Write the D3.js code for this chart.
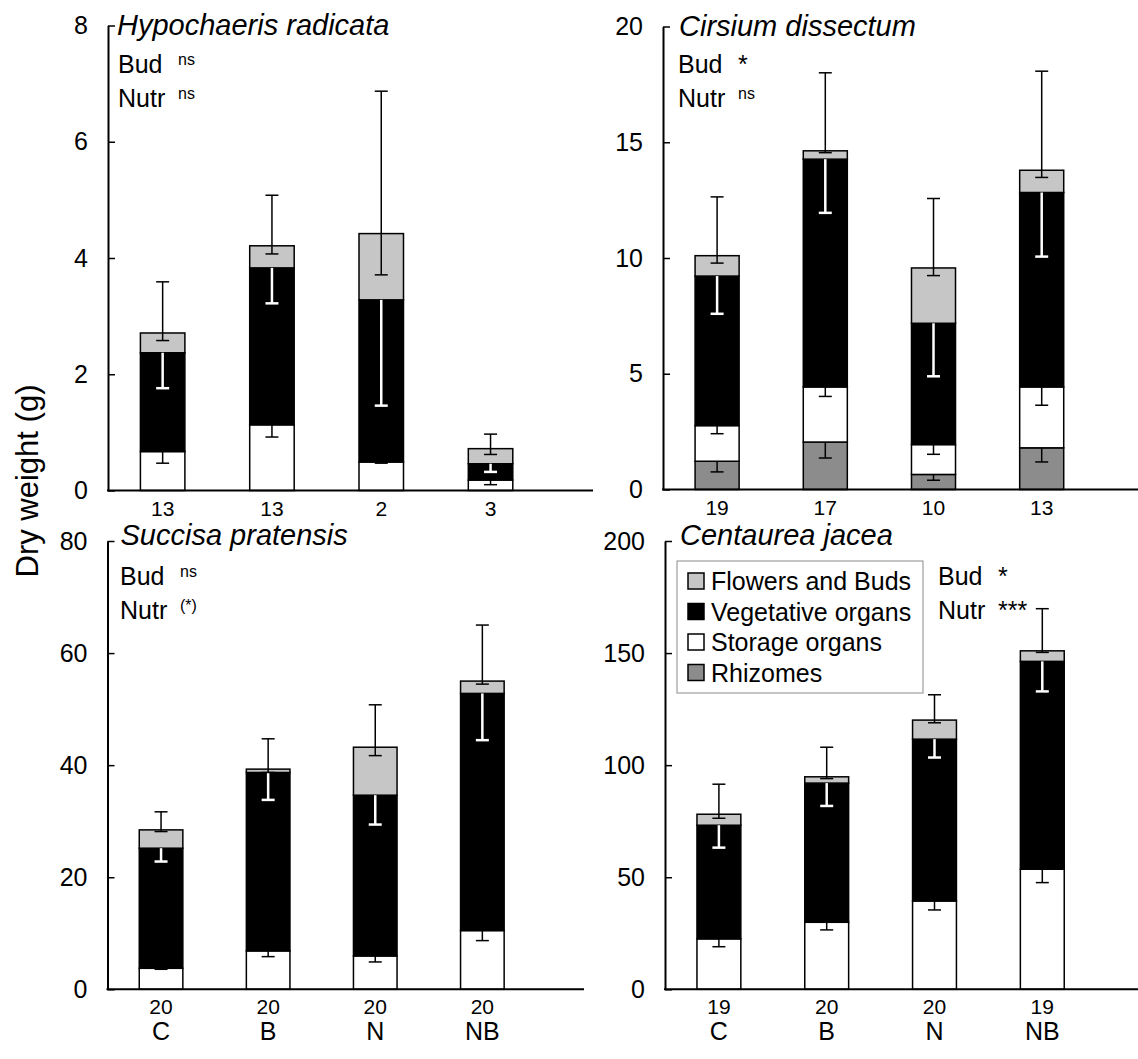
<!DOCTYPE html>
<html>
<head>
<meta charset="utf-8">
<script src="https://cdn.jsdelivr.net/npm/d3@7"></script>
<style>
  body { margin: 0; background: #fff; }
  text { font-family: "Liberation Sans", Arial, sans-serif; fill: #000; }
</style>
</head>
<body>
<div id="chart"></div>
<script>
// treatments and sample sizes
var treatments = ["C", "B", "N", "NB"];
var segments = ["Rhizomes", "Storage organs", "Vegetative organs", "Flowers and Buds"];

// Hypochaeris radicata
var hypoN = [13, 13, 2, 3];
var hypoRhizomes = [0, 0, 0, 0];
var hypoStorage = [0.67, 1.13, 0.49, 0.18];
var hypoVeg = [1.70, 2.70, 2.79, 0.28];
var hypoFlowers = [0.34, 0.38, 1.14, 0.26];
var hypoFlSE = [0.13, 0.14, 0.71, 0.10];
var hypoTotSE = [0.88, 0.87, 2.45, 0.25];
var hypoVegSE = [0.61, 0.61, 1.82, 0.14];
var hypoStorSE = [0.20, 0.21, 0.02, 0.08];
var hypoRhizSE = [0, 0, 0, 0];

// Cirsium dissectum
var cirsN = [19, 17, 10, 13];
var cirsRhizomes = [1.22, 2.05, 0.65, 1.80];
var cirsStorage = [1.54, 2.38, 1.29, 2.63];
var cirsVeg = [6.46, 9.84, 5.24, 8.40];
var cirsFlowers = [0.88, 0.36, 2.39, 0.96];
var cirsFlSE = [0.32, 0.08, 0.33, 0.31];
var cirsTotSE = [2.54, 3.37, 3.00, 4.28];
var cirsVegSE = [1.63, 2.32, 2.29, 2.77];
var cirsStorSE = [0.35, 0.41, 0.42, 0.79];
var cirsRhizSE = [0.46, 0.69, 0.25, 0.61];

// Succisa pratensis
var succN = [20, 20, 20, 20];
var succRhizomes = [0, 0, 0, 0];
var succStorage = [3.75, 6.85, 5.95, 10.48];
var succVeg = [21.43, 31.84, 28.69, 42.32];
var succFlowers = [3.27, 0.60, 8.56, 2.20];
var succFlSE = [0.30, 0.60, 1.50, 0.54];
var succTotSE = [3.22, 5.41, 7.57, 10.0];
var succVegSE = [2.38, 4.89, 5.24, 8.34];
var succStorSE = [0.18, 1.02, 1.07, 1.79];
var succRhizSE = [0, 0, 0, 0];

// Centaurea jacea
var centN = [19, 20, 20, 19];
var centRhizomes = [0, 0, 0, 0];
var centStorage = [22.5, 29.9, 39.4, 53.6];
var centVeg = [50.7, 62.1, 72.2, 92.7];
var centFlowers = [4.9, 2.8, 8.5, 4.7];
var centFlSE = [1.8, 0.8, 1.2, 0.7];
var centTotSE = [13.4, 13.2, 11.3, 18.8];
var centVegSE = [10.0, 10.2, 8.2, 13.4];
var centStorSE = [3.5, 3.4, 4.0, 6.0];
var centRhizSE = [0, 0, 0, 0];

var yTicksHypo = [0, 2, 4, 6, 8];
var yTicksCirs = [0, 5, 10, 15, 20];
var yTicksSucc = [0, 20, 40, 60, 80];
var yTicksCent = [0, 50, 100, 150, 200];

var colors = {
  "Rhizomes": "#8c8c8c",
  "Storage organs": "#ffffff",
  "Vegetative organs": "#000000",
  "Flowers and Buds": "#c6c6c6"
};

var panels = [
  {name: "Hypochaeris radicata", ticks: yTicksHypo, n: hypoN, bud: "ns", nutr: "ns",
   ax: 108, y0: 490.5, y1: 25.5, xEnd: 593, step: 109.3, statX: 10, titleX: 9, top: true,
   rh: hypoRhizomes, st: hypoStorage, vg: hypoVeg, fl: hypoFlowers,
   flSE: hypoFlSE, totSE: hypoTotSE, vgSE: hypoVegSE, stSE: hypoStorSE, rhSE: hypoRhizSE},
  {name: "Cirsium dissectum", ticks: yTicksCirs, n: cirsN, bud: "*", nutr: "ns",
   ax: 663, y0: 489.5, y1: 26.5, xEnd: 1138, step: 108.2, statX: 15, titleX: 16, top: true,
   rh: cirsRhizomes, st: cirsStorage, vg: cirsVeg, fl: cirsFlowers,
   flSE: cirsFlSE, totSE: cirsTotSE, vgSE: cirsVegSE, stSE: cirsStorSE, rhSE: cirsRhizSE},
  {name: "Succisa pratensis", ticks: yTicksSucc, n: succN, bud: "ns", nutr: "(*)",
   ax: 107.5, y0: 989.3, y1: 541, xEnd: 584, step: 107.1, statX: 12.5, titleX: 13, top: false,
   rh: succRhizomes, st: succStorage, vg: succVeg, fl: succFlowers,
   flSE: succFlSE, totSE: succTotSE, vgSE: succVegSE, stSE: succStorSE, rhSE: succRhizSE},
  {name: "Centaurea jacea", ticks: yTicksCent, n: centN, bud: "*", nutr: "***",
   ax: 665, y0: 989.3, y1: 541, xEnd: 1138, step: 107.8, statX: 273, titleX: 15, top: false,
   rh: centRhizomes, st: centStorage, vg: centVeg, fl: centFlowers,
   flSE: centFlSE, totSE: centTotSE, vgSE: centVegSE, stSE: centStorSE, rhSE: centRhizSE}
];

var svg = d3.select("#chart").append("svg")
  .attr("width", 1138)
  .attr("height", 1059);

panels.forEach(function(p) {
  var g = svg.append("g");

  var x = d3.scaleBand()
    .domain(treatments)
    .range([p.ax, p.ax + 4 * p.step])
    .paddingInner(0.593)
    .paddingOuter(0.2965);

  var y = d3.scaleLinear()
    .domain([0, d3.max(p.ticks)])
    .range([p.y0, p.y1]);

  // stacked rows
  var rows = treatments.map(function(t, i) {
    return {t: t, i: i, vals: [p.rh[i], p.st[i], p.vg[i], p.fl[i]]};
  });

  rows.forEach(function(r) {
    var base = 0;
    r.vals.forEach(function(v, k) {
      if (v > 0) {
        g.append("rect")
          .attr("x", x(r.t))
          .attr("y", y(base + v))
          .attr("width", x.bandwidth())
          .attr("height", y(base) - y(base + v))
          .attr("fill", colors[segments[k]])
          .attr("stroke", "#000")
          .attr("stroke-width", 1.5);
      }
      base += v;
    });
  });

  // error bars
  var cap = 13;
  function errBar(cx, a, b, col, w, capA) {
    g.append("line")
      .attr("x1", cx).attr("x2", cx)
      .attr("y1", y(a)).attr("y2", y(b))
      .attr("stroke", col).attr("stroke-width", w);
    g.append("line")
      .attr("x1", cx - cap / 2).attr("x2", cx + cap / 2)
      .attr("y1", y(b)).attr("y2", y(b))
      .attr("stroke", col).attr("stroke-width", w);
    if (capA) {
      g.append("line")
        .attr("x1", cx - cap / 2).attr("x2", cx + cap / 2)
        .attr("y1", y(a)).attr("y2", y(a))
        .attr("stroke", col).attr("stroke-width", w);
    }
  }

  rows.forEach(function(r) {
    var i = r.i;
    var cx = x(r.t) + x.bandwidth() / 2;
    var rhTop = p.rh[i];
    var stTop = rhTop + p.st[i];
    var vgTop = stTop + p.vg[i];
    var tot = vgTop + p.fl[i];
    if (p.rhSE[i] > 0) errBar(cx, rhTop, rhTop - p.rhSE[i], "#000", 1.5, false);
    errBar(cx, stTop, stTop - p.stSE[i], "#000", 1.5, false);
    errBar(cx, vgTop, vgTop - p.vgSE[i], "#fff", 2.5, false);
    errBar(cx, tot - p.flSE[i], tot + p.totSE[i], "#000", 1.5, true);
  });

  // axes
  g.append("g")
    .attr("transform", "translate(" + p.ax + ",0)")
    .call(d3.axisLeft(y).tickValues(p.ticks).tickSize(-7).tickSizeOuter(0).tickPadding(20))
    .call(function(a) {
      a.select(".domain").attr("stroke-width", 2);
      a.selectAll(".tick line").attr("stroke-width", 1.5);
      a.selectAll(".tick text")
        .style("font-family", "'Liberation Sans', Arial, sans-serif")
        .style("font-size", "25px");
    });

  g.append("line")
    .attr("x1", p.ax - 1).attr("x2", p.xEnd)
    .attr("y1", p.y0).attr("y2", p.y0)
    .attr("stroke", "#000").attr("stroke-width", 2);

  // sample sizes and treatment names
  rows.forEach(function(r) {
    var cx = x(r.t) + x.bandwidth() / 2;
    g.append("text")
      .attr("x", cx).attr("y", p.y0 + 25)
      .attr("text-anchor", "middle")
      .style("font-size", "21px")
      .text(p.n[r.i]);
    if (!p.top) {
      g.append("text")
        .attr("x", cx).attr("y", p.y0 + 51)
        .attr("text-anchor", "middle")
        .style("font-size", "25px")
        .text(r.t);
    }
  });

  // title
  g.append("text")
    .attr("x", p.ax + p.titleX)
    .attr("y", p.y1 + (p.top ? 9.5 : 4))
    .style("font-size", "29px")
    .style("font-style", "italic")
    .text(p.name);

  // significance
  var sx = p.ax + p.statX;
  var by = p.top ? 73 : 585;
  [["Bud", p.bud, by], ["Nutr", p.nutr, by + 34]].forEach(function(s) {
    g.append("text").attr("x", sx).attr("y", s[2])
      .style("font-size", "25px").text(s[0]);
    var star = s[1].charAt(0) === "*";
    g.append("text").attr("x", sx + 60).attr("y", star ? s[2] : s[2] - 8)
      .style("font-size", star ? "25px" : "16px").text(s[1]);
  });
});

// legend
var leg = svg.append("g").attr("transform", "translate(677,561)");
leg.append("rect")
  .attr("width", 246).attr("height", 132)
  .attr("fill", "#fff").attr("stroke", "#8a8a8a").attr("stroke-width", 1);
segments.slice().reverse().forEach(function(s, k) {
  var cy = 20 + k * 30.5;
  leg.append("rect")
    .attr("x", 11).attr("y", cy - 8)
    .attr("width", 16).attr("height", 16)
    .attr("fill", colors[s]).attr("stroke", "#000").attr("stroke-width", 1.5);
  leg.append("text")
    .attr("x", 34).attr("y", cy + 9)
    .style("font-size", "25px")
    .text(s);
});

// y axis label
svg.append("text")
  .attr("transform", "translate(38,481) rotate(-90)")
  .attr("text-anchor", "middle")
  .style("font-size", "31px")
  .text("Dry weight (g)");
</script>
</body>
</html>
